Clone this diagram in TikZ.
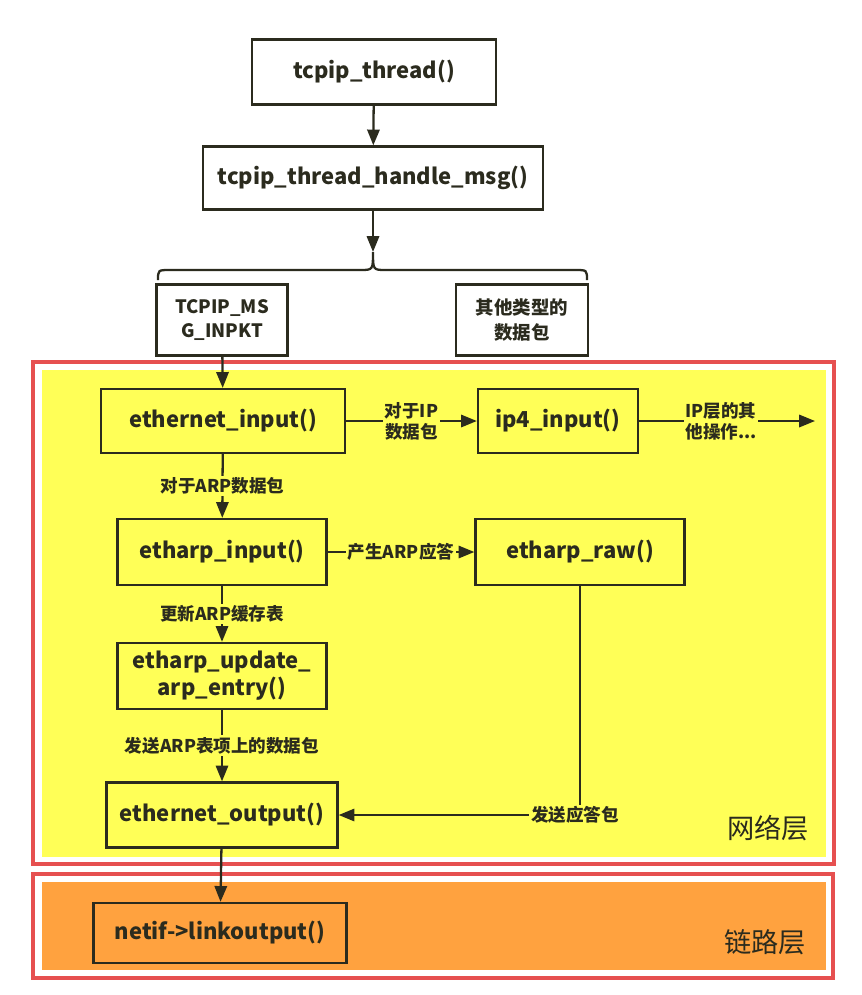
\documentclass[tikz,border=0pt]{standalone}
\usepackage{fontspec}
\setmainfont{Noto Sans CJK SC}
\usetikzlibrary{arrows.meta,positioning}
\definecolor{layerred}{HTML}{E65050}
\definecolor{netyellow}{HTML}{FFFF57}
\definecolor{linkorange}{HTML}{FFA23F}
\definecolor{inkdark}{HTML}{2B2B1E}

\begin{document}
\begin{tikzpicture}[x=0.02cm,y=-0.02cm,
	boxsize/.style 2 args={minimum width=#1*0.02cm,minimum height=#2*0.02cm},
	fbox/.style={draw=inkdark,line width=1.3pt,fill=netyellow,inner sep=0pt,
		font=\fontsize{12.5}{15.5}\selectfont\bfseries,text=inkdark,align=center},
	wbox/.style={fbox,fill=white},
	small/.style={font=\fontsize{10.5}{14}\selectfont\bfseries},
	lbl/.style={fill=netyellow,inner sep=1pt,
		font=\fontsize{10}{12}\selectfont\bfseries,text=inkdark,align=center},
	arr/.style={draw=inkdark,line width=1.3pt,-{Triangle[length=9pt,width=7pt]}},
	layer/.style={draw=layerred,line width=2.5pt},
	layername/.style={font=\fontsize{15.5}{18}\selectfont,text=inkdark}]
\useasboundingbox (0,0) rectangle (862,995);
% layers
\draw[layer] (33,362) rectangle (834,864);
\fill[netyellow] (42,370) rectangle (826,857);
\draw[layer] (33,874) rectangle (833,978);
\fill[linkorange] (42,882) rectangle (826,970);
\node[layername] (netname) at (768,828) {网络层};
\node[layername] (linkname) at (765,942) {链路层};
% top part
\node[wbox,boxsize={244}{65}] (thread) at (374,72) {tcpip\_thread()};
\node[wbox,boxsize={340}{63}] (handle) at (373,178) {tcpip\_thread\_handle\_msg()};
\coordinate (bracetip) at (373,252);
\coordinate (braceL) at (158,280);
\coordinate (braceR) at (587,280);
\node[wbox,small,boxsize={131}{71}] (inpkt) at (222,320) {TCPIP\_MS\\G\_INPKT};
\node[wbox,small,boxsize={132}{71}] (other) at (522,320) {其他类型的\\数据包};
\draw[arr] (thread) -- (handle);
\draw[arr] (handle) -- (bracetip);
\draw[draw=inkdark,line width=1.3pt] (braceL) .. controls (158,270) .. (170,270) -- (360,270)
	.. controls (373,270) .. (bracetip) .. controls (373,270) .. (386,270) -- (575,270)
	.. controls (587,270) .. (braceR);
% network layer
\node[fbox,boxsize={244}{64}] (ethin) at (223,421) {ethernet\_input()};
\node[fbox,boxsize={160}{64}] (ip4) at (558,421) {ip4\_input()};
\coordinate (ipout) at (815,421);
\node[fbox,boxsize={209}{66}] (arpin) at (222,552) {etharp\_input()};
\node[fbox,boxsize={209}{66}] (raw) at (580,552) {etharp\_raw()};
\node[fbox,boxsize={209}{66}] (update) at (222,676) {etharp\_update\_\\arp\_entry()};
\node[fbox,boxsize={231}{65}] (ethout) at (222,815) {ethernet\_output()};
\draw[arr] (inpkt) -- (ethin);
\draw[arr] (ethin) -- node[lbl] {对于IP\\数据包} (ip4);
\draw[arr] (ip4) -- node[lbl,xshift=-6*0.02cm] {IP层的其\\他操作...} (ipout);
\draw[arr] (ethin) -- node[lbl] {对于ARP数据包} (arpin);
\draw[arr] (arpin) -- node[lbl] {产生ARP应答} (raw);
\draw[arr] (arpin) -- node[lbl] {更新ARP缓存表} (update);
\draw[arr] (update) -- node[lbl] {发送ARP表项上的数据包} (ethout);
\draw[arr] (raw) |- node[lbl,xshift=-5*0.02cm] {发送应答包} (ethout);
% link layer
\node[fbox,fill=linkorange,boxsize={253}{60}] (linkout) at (220,933) {netif->linkoutput()};
\draw[arr] (ethout) -- (linkout);
\end{tikzpicture}
\end{document}
